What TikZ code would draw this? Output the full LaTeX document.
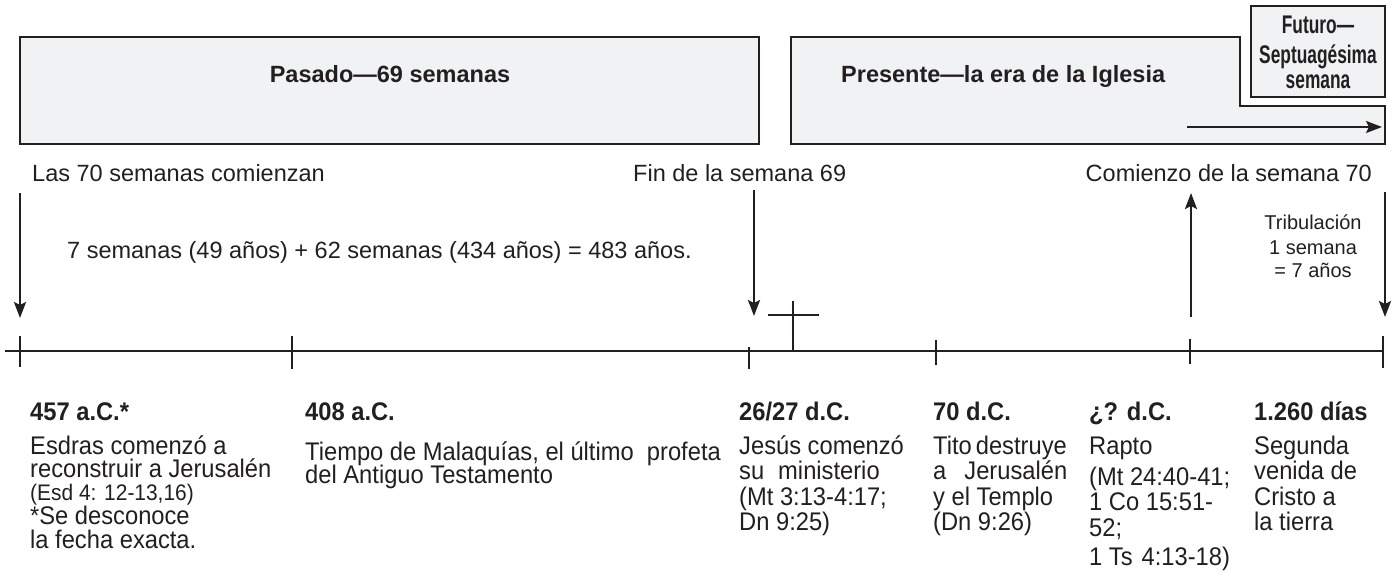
\documentclass[tikz,border=0pt]{standalone}
\usepackage{fontspec}
\setmainfont{Liberation Sans}
\newfontfamily\narrowfont[FakeStretch=0.93]{Liberation Sans}
\newfontfamily\condfont[FakeStretch=0.68]{Liberation Sans}
\usetikzlibrary{arrows.meta}
\definecolor{ink}{RGB}{35,31,32}
\definecolor{boxfill}{RGB}{241,242,244}
\newcommand\colline[4]{\node[bd, anchor=base west] (#1) at (#2,#3) {#4};}
\begin{document}
\begin{tikzpicture}[x=1pt,y=-1pt,
  panel/.style={draw=ink, fill=boxfill, line width=2.6pt, line join=miter},
  conn/.style={draw=ink, line width=2.4pt, -{Stealth[length=16pt,width=12pt,inset=3pt]}},
  axis/.style={draw=ink, line width=2.4pt},
  tickmark/.style={draw=ink, line width=2.4pt},
  lbl/.style={text=ink, inner sep=0pt, font=\fontsize{23.5}{28}\selectfont},
  trib/.style={text=ink, inner sep=0pt, font=\fontsize{20}{24}\selectfont},
  ttl/.style={text=ink, inner sep=0pt, font=\fontsize{23.5}{28}\selectfont\bfseries},
  fut/.style={text=ink, inner sep=0pt, font=\condfont\fontsize{25.5}{28}\selectfont\bfseries},
  hd/.style={text=ink, inner sep=0pt, font=\narrowfont\fontsize{25.5}{30}\selectfont\bfseries},
  bd/.style={text=ink, inner sep=0pt, font=\narrowfont\fontsize{25.5}{30}\selectfont},
  bdsm/.style={text=ink, inner sep=0pt, font=\narrowfont\fontsize{22.5}{26}\selectfont}
]
\useasboundingbox[fill=white] (0,0) rectangle (1392,581);

% top panels
\path[panel] (20,37) rectangle (759,144);
\path[panel] (791,37) -- (1240,37) -- (1240,106) -- (1385,106) -- (1385,144) -- (791,144) -- cycle;
\path[panel] (1251,6) rectangle (1385,97);

\node[ttl, anchor=base] (pasado) at (390,82.5) {Pasado—69 semanas};
\node[ttl, anchor=base west] (presente) at (841,82.5) {Presente—la era de la Iglesia};
\node[fut, anchor=base] (f1) at (1318,33.5) {Futuro—};
\node[fut, anchor=base] (f2) at (1318,63.5) {Septuagésima};
\node[fut, anchor=base] (f3) at (1318,88.5) {semana};

\coordinate (pa) at (1187,127);
\coordinate (pb) at (1382,127);
\draw[conn] (pa) -- (pb);

% labels above the timeline
\node[lbl, anchor=base west] (las) at (32,181) {Las 70 semanas comienzan};
\node[lbl, anchor=base west] (fin) at (633,181) {Fin de la semana 69};
\node[lbl, anchor=base east] (com) at (1372,181) {Comienzo de la semana 70};
\node[lbl, anchor=base west] (sum) at (67,258) {7 semanas (49 años) + 62 semanas (434 años) = 483 años.};
\node[trib, anchor=base] (tr1) at (1313,229) {Tribulación};
\node[trib, anchor=base] (tr2) at (1313,254) {1 semana};
\node[trib, anchor=base] (tr3) at (1313,277) {= 7 años};

% arrows
\coordinate (a1s) at (20,193);   \coordinate (a1e) at (20,318);
\coordinate (a2s) at (754,190);  \coordinate (a2e) at (754,316);
\coordinate (a3s) at (1191,317); \coordinate (a3e) at (1191,193);
\coordinate (a4s) at (1385,192); \coordinate (a4e) at (1385,317);
\draw[conn] (a1s) -- (a1e);
\draw[conn] (a2s) -- (a2e);
\draw[conn] (a3s) -- (a3e);
\draw[conn] (a4s) -- (a4e);

% timeline
\coordinate (t0) at (5,351);
\coordinate (tE) at (1383,351);
\draw[axis] (t0) -- (tE);
\draw[tickmark] (20,336) -- (20,367);
\draw[tickmark] (292,336) -- (292,369);
\draw[tickmark] (749,347) -- (749,369);
\draw[tickmark] (936,340) -- (936,365);
\draw[tickmark, line width=1.5pt] (1190,339) -- (1190,364);
\draw[tickmark] (1383,336) -- (1383,368);
% cross
\draw[tickmark, line width=2pt] (793,301) -- (793,351);
\draw[tickmark, line width=2pt] (768,315) -- (819,315);

% columns
\node[hd, anchor=base west] (h1) at (30,420) {457 a.C.*};
\colline{c1a}{30}{454}{Esdras comenzó a}
\colline{c1b}{30}{477.5}{reconstruir a Jerusalén}
\node[bdsm, anchor=base west] (c1c) at (30,500.5) {(Esd 4: 12-13,16)};
\colline{c1d}{30}{524.5}{*Se desconoce}
\colline{c1e}{30}{548}{la fecha exacta.}

\node[hd, anchor=base west] (h2) at (305,420) {408 a.C.};
\colline{c2a}{305}{460}{Tiempo de Malaquías, el último\ \ profeta}
\colline{c2b}{305}{483.5}{del Antiguo Testamento}

\node[hd, anchor=base west] (h3) at (739,420) {26/27 d.C.};
\colline{c3a}{739}{454}{Jesús comenzó}
\colline{c3b}{739}{479.5}{su\hspace{14pt}ministerio}
\colline{c3c}{739}{505}{(Mt 3:13-4:17;}
\colline{c3d}{739}{530.5}{Dn 9:25)}

\node[hd, anchor=base west] (h4) at (933,420) {70 d.C.};
\colline{c4a}{933}{454}{Tito\hspace{4pt}destruye}
\colline{c4b}{933}{479.5}{a\hspace{18pt}Jerusalén}
\colline{c4c}{933}{505}{y el Templo}
\colline{c4d}{933}{530.5}{(Dn 9:26)}

\node[hd, anchor=base west] (h5) at (1089,420) {¿? d.C.};
\colline{c5a}{1089}{454}{Rapto}
\colline{c5b}{1089}{485}{(Mt 24:40-41;}
\colline{c5c}{1089}{510}{1 Co 15:51-}
\colline{c5d}{1089}{536}{52;}
\colline{c5e}{1089}{565}{1 Ts\hspace{9pt}4:13-18)}

\node[hd, anchor=base west] (h6) at (1254,420) {1.260 días};
\colline{c6a}{1254}{454}{Segunda}
\colline{c6b}{1254}{479.5}{venida de}
\colline{c6c}{1254}{505}{Cristo a}
\colline{c6d}{1254}{530.5}{la tierra}
\end{tikzpicture}
\end{document}
